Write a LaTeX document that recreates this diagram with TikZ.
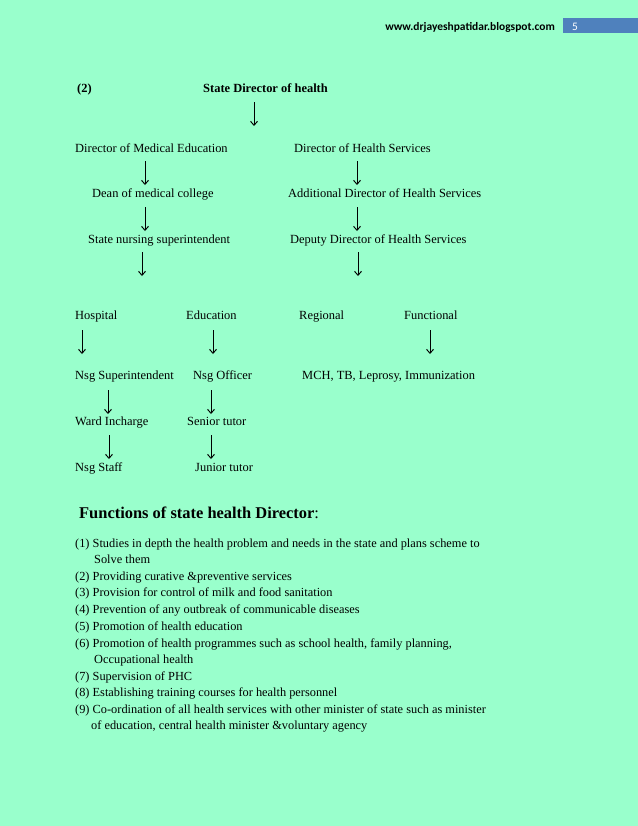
\documentclass[tikz,border=0pt]{standalone}
\usepackage{fontspec}
\setmainfont{Liberation Serif}
\newfontfamily\hdrfont{Carlito}
\usetikzlibrary{arrows.meta}
\definecolor{mintbg}{RGB}{153,255,204}
\definecolor{barblue}{RGB}{79,129,189}
\begin{document}
\begin{tikzpicture}[x=1bp,y=-1bp,
    lbl/.style={anchor=base west,inner sep=0pt,font=\fontsize{12.5}{14}\selectfont},
    hd/.style={lbl,font=\fontsize{12.5}{14}\selectfont\bfseries},
    item/.style={anchor=base west,inner sep=0pt,font=\fontsize{12.4}{14}\selectfont},
    arr/.style={-{Straight Barb[length=4bp,width=7bp]},line width=0.95bp}]
  % page
  \fill[mintbg] (0,0) rectangle (638,826);
  \useasboundingbox (0,0) rectangle (638,826);
  \fill[barblue] (563,18) rectangle (638,33);
  \node (web) at (555,30) [anchor=base east,inner sep=0pt,font=\hdrfont\bfseries\fontsize{11.5}{13}\selectfont] {www.drjayeshpatidar.blogspot.com};
  \node (pg) at (572,30) [anchor=base west,inner sep=0pt,text=white,font=\hdrfont\fontsize{11.5}{13}\selectfont] {5};
  % chart
  \node (num) at (77,92) [hd] {(2)};
  \node (SD) at (203,92) [hd] {State Director of health};
  \node (DME) at (75,152) [lbl] {Director of Medical Education};
  \node (DHS) at (294,152) [lbl] {Director of Health Services};
  \node (Dean) at (92,197) [lbl] {Dean of medical college};
  \node (ADHS) at (288,197) [lbl] {Additional Director of Health Services};
  \node (SNS) at (88,243) [lbl] {State nursing superintendent};
  \node (DDHS) at (290,243) [lbl] {Deputy Director of Health Services};
  \node (Hosp) at (75,319) [lbl] {Hospital};
  \node (Edu) at (186,319) [lbl] {Education};
  \node (Reg) at (299,319) [lbl] {Regional};
  \node (Func) at (404,319) [lbl] {Functional};
  \node (NSup) at (75,379) [lbl] {Nsg Superintendent};
  \node (NOff) at (193,379) [lbl] {Nsg Officer};
  \node (MCH) at (302,379) [lbl] {MCH, TB, Leprosy, Immunization};
  \node (Ward) at (75,425) [lbl] {Ward Incharge};
  \node (Sen) at (187,425) [lbl] {Senior tutor};
  \node (NStaff) at (75,471) [lbl] {Nsg Staff};
  \node (Jun) at (195,471) [lbl] {Junior tutor};
  % arrows
  \foreach \n/\x/\y in {1/254/102, 2/145/161, 3/357/161, 4/145/207, 5/357/207,
      6/142/252, 7/358/252, 8/82/330, 9/213/330, 10/430/330,
      11/108/390, 12/211/390, 13/109/435, 14/211/435}{
    \coordinate (t\n) at (\x,\y);
    \coordinate (h\n) at (\x,\y+24);
    \draw[arr] (t\n) -- (h\n);
  }
  % functions
  \node (fn) at (79,518) [anchor=base west,inner sep=0pt,font=\fontsize{16.5}{19}\selectfont] {\textbf{Functions of state health Director}:};
  \node (f1) at (75,547) [item] {(1) Studies in depth the health problem and needs in the state and plans scheme to};
  \node (f1b) at (94,563.5) [item] {Solve them};
  \node (f2) at (75,580) [item] {(2) Providing curative \&preventive services};
  \node (f3) at (75,596.5) [item] {(3) Provision for control of milk and food sanitation};
  \node (f4) at (75,613) [item] {(4) Prevention of any outbreak of communicable diseases};
  \node (f5) at (75,630) [item] {(5) Promotion of health education};
  \node (f6) at (75,647) [item] {(6) Promotion of health programmes such as school health, family planning,};
  \node (f6b) at (94,663.5) [item] {Occupational health};
  \node (f7) at (75,680) [item] {(7) Supervision of PHC};
  \node (f8) at (75,696.5) [item] {(8) Establishing training courses for health personnel};
  \node (f9) at (75,713) [item] {(9) Co-ordination of all health services with other minister of state such as minister};
  \node (f9b) at (91,729.5) [item] {of education, central health minister \&voluntary agency};
\end{tikzpicture}
\end{document}
